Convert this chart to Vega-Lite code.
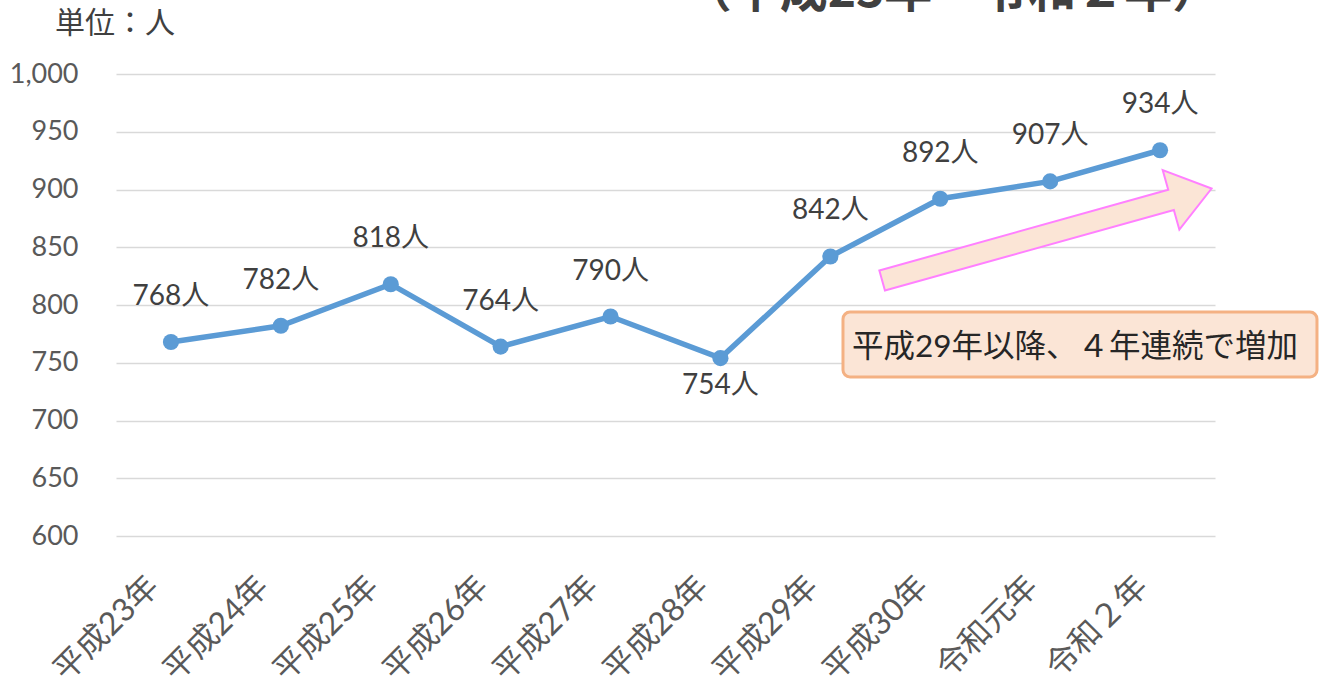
{
  "$schema": "https://vega.github.io/schema/vega-lite/v6.json",
  "width": 1099,
  "height": 462,
  "autosize": {"type": "none"},
  "padding": {"left": 116, "top": 74, "right": 105, "bottom": 153},
  "background": "white",
  "config": {"view": {"stroke": null}},
  "layer": [
    {
      "data": {"values": [
        {"year": "平成23年", "value": 768, "label": "768人"},
        {"year": "平成24年", "value": 782, "label": "782人"},
        {"year": "平成25年", "value": 818, "label": "818人"},
        {"year": "平成26年", "value": 764, "label": "764人"},
        {"year": "平成27年", "value": 790, "label": "790人"},
        {"year": "平成28年", "value": 754, "label": "754人"},
        {"year": "平成29年", "value": 842, "label": "842人"},
        {"year": "平成30年", "value": 892, "label": "892人"},
        {"year": "令和元年", "value": 907, "label": "907人"},
        {"year": "令和２年", "value": 934, "label": "934人"}
      ]},
      "encoding": {
        "x": {"field": "year", "type": "nominal", "sort": null,
              "scale": {"type": "point", "padding": 0.5},
              "axis": {"title": null, "labelAngle": -45, "labelAlign": "right", "labelBaseline": "middle",
                       "labelPadding": 45, "labelOffset": -18, "labelFontSize": 32, "labelColor": "#595959",
                       "labelFont": "Lato, Noto Sans CJK JP", "domain": false, "ticks": false, "grid": false}},
        "y": {"field": "value", "type": "quantitative",
              "scale": {"domain": [600, 1000], "nice": false, "zero": false},
              "axis": {"title": null, "values": [600, 650, 700, 750, 800, 850, 900, 950, 1000], "format": ",.0f",
                       "labelPadding": 38, "labelFontSize": 27, "labelColor": "#595959", "labelFont": "Lato",
                       "domain": false, "ticks": false, "grid": true, "gridColor": "#D9D9D9", "gridWidth": 1.5}}
      },
      "layer": [
        {"mark": {"type": "line", "color": "#5B9BD5", "strokeWidth": 5.5}},
        {"mark": {"type": "point", "shape": "circle", "size": 260, "filled": true, "color": "#5B9BD5", "opacity": 1}},
        {"transform": [{"filter": "datum.value != 754"}],
         "mark": {"type": "text", "dy": -45, "baseline": "middle", "fontSize": 28, "font": "Lato, Noto Sans CJK JP", "color": "#404040"},
         "encoding": {"text": {"field": "label"}}},
        {"transform": [{"filter": "datum.value == 754"}],
         "mark": {"type": "text", "dy": 28, "baseline": "middle", "fontSize": 28, "font": "Lato, Noto Sans CJK JP", "color": "#404040"},
         "encoding": {"text": {"field": "label"}}}
      ]
    },
    {
      "data": {"values": [{"note": "平成29年以降、４年連続で増加", "title": "（平成23年～令和２年）", "unit": "単位：人"}]},
      "layer": [
        {"mark": {"type": "rect", "fill": "#FBE5D6", "stroke": "#F4B183", "strokeWidth": 3, "cornerRadius": 7},
         "encoding": {
           "x": {"datum": 0.6615, "type": "quantitative", "scale": {"domain": [0, 1], "nice": false, "zero": false}, "axis": null},
           "x2": {"datum": 1.0928},
           "y": {"datum": 793.9, "type": "quantitative", "scale": {"domain": [600, 1000], "nice": false, "zero": false}},
           "y2": {"datum": 737.7}
         }},
        {"mark": {"type": "text", "align": "left", "baseline": "middle", "fontSize": 31.5, "font": "Lato, Noto Sans CJK JP", "color": "#262626"},
         "encoding": {
           "x": {"datum": 0.6697, "type": "quantitative", "scale": {"domain": [0, 1], "nice": false, "zero": false}, "axis": null},
           "y": {"datum": 762.8, "type": "quantitative", "scale": {"domain": [600, 1000], "nice": false, "zero": false}},
           "text": {"field": "note"}
         }},
        {"mark": {"type": "point", "shape": "M -1 -0.061 L 0.754 -0.061 L 0.754 -0.181 L 1 0 L 0.754 0.181 L 0.754 0.061 L -1 0.061 Z",
                  "size": 116964, "angle": -15.6, "filled": true, "fill": "#FBE5D6", "stroke": "#FF80FF", "strokeWidth": 2, "opacity": 1},
         "encoding": {
           "x": {"datum": 0.847, "type": "quantitative", "scale": {"domain": [0, 1], "nice": false, "zero": false}, "axis": null},
           "y": {"datum": 861, "type": "quantitative", "scale": {"domain": [600, 1000], "nice": false, "zero": false}}
         }},
        {"mark": {"type": "text", "align": "center", "baseline": "alphabetic", "fontSize": 48, "fontWeight": "bold", "font": "Noto Sans CJK JP", "color": "#404040"},
         "encoding": {
           "x": {"datum": 0.7607, "type": "quantitative", "scale": {"domain": [0, 1], "nice": false, "zero": false}, "axis": null},
           "y": {"datum": 1058, "type": "quantitative", "scale": {"domain": [600, 1000], "nice": false, "zero": false}},
           "text": {"field": "title"}
         }},
        {"mark": {"type": "text", "align": "left", "baseline": "middle", "fontSize": 30, "font": "Noto Sans CJK JP", "color": "#404040"},
         "encoding": {
           "x": {"datum": -0.0555, "type": "quantitative", "scale": {"domain": [0, 1], "nice": false, "zero": false}, "axis": null},
           "y": {"datum": 1043, "type": "quantitative", "scale": {"domain": [600, 1000], "nice": false, "zero": false}},
           "text": {"field": "unit"}
         }}
      ]
    }
  ],
  "resolve": {"scale": {"x": "independent"}}
}
